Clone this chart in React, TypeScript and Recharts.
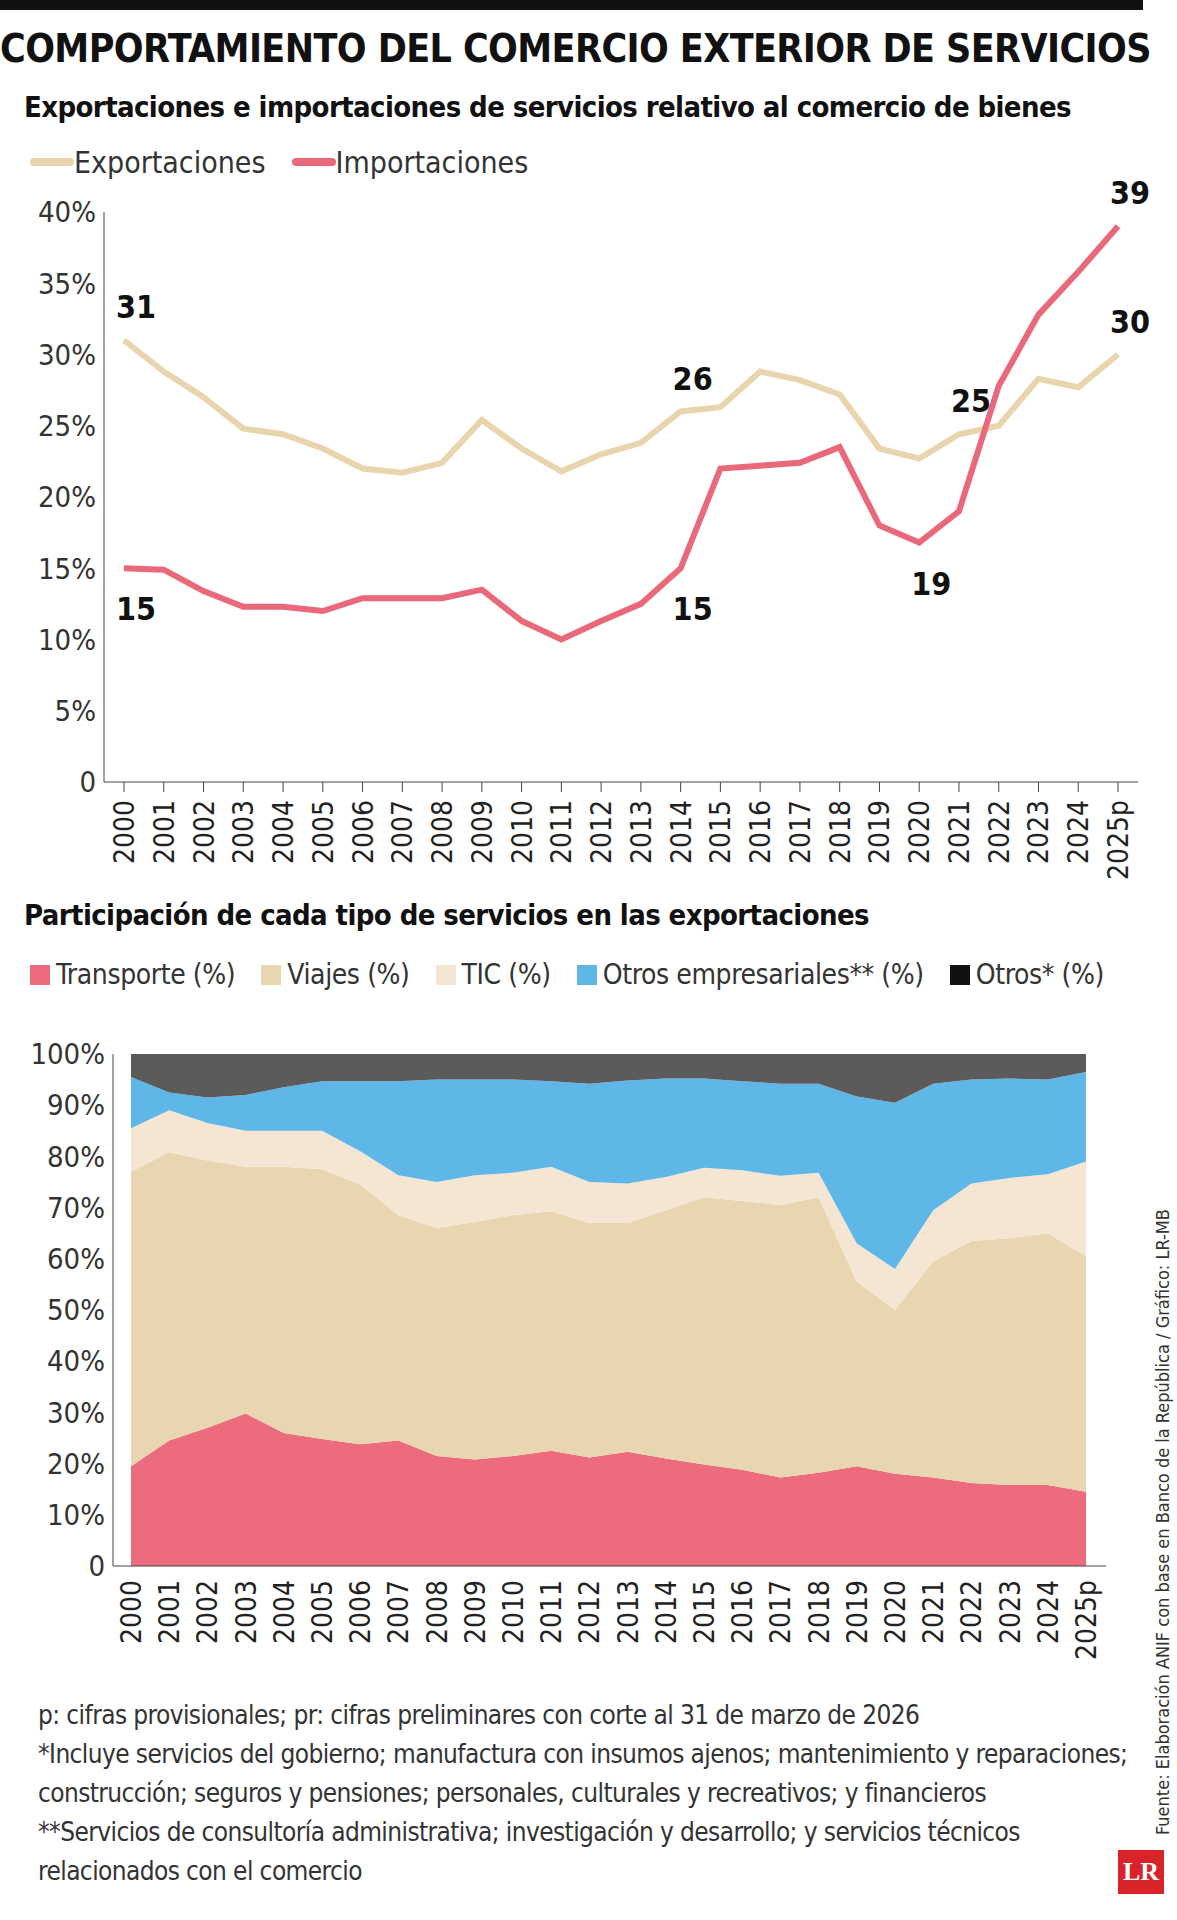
import React from 'react';
import { LineChart, Line, AreaChart, Area, XAxis, YAxis } from 'recharts';

const years = ['2000','2001','2002','2003','2004','2005','2006','2007','2008','2009','2010','2011','2012','2013','2014','2015','2016','2017','2018','2019','2020','2021','2022','2023','2024','2025p'];

const exportaciones = [31, 28.8, 27, 24.8, 24.4, 23.4, 22, 21.7, 22.4, 25.4, 23.4, 21.8, 23, 23.8, 26, 26.3, 28.8, 28.2, 27.2, 23.4, 22.7, 24.4, 25, 28.3, 27.7, 30];
const importaciones = [15, 14.9, 13.4, 12.3, 12.3, 12, 12.9, 12.9, 12.9, 13.5, 11.3, 10, 11.3, 12.5, 15, 22, 22.2, 22.4, 23.5, 18, 16.8, 19, 27.8, 32.8, 35.8, 39];

const expLabels: Record<number, string> = { 0: '31', 14: '26', 21: '25', 25: '30' };
const impLabels: Record<number, string> = { 0: '15', 14: '15', 20: '19', 25: '39' };

// stacked boundaries (cumulative %)
const transporteTop = [19.5, 24.5, 27, 29.8, 26, 24.8, 23.8, 24.5, 21.5, 20.8, 21.5, 22.5, 21.2, 22.3, 21, 19.8, 18.8, 17.3, 18.2, 19.5, 18, 17.3, 16.2, 15.8, 15.8, 14.5];
const viajesTop = [77, 80.8, 79.2, 78, 78, 77.5, 74.5, 68.5, 66, 67.2, 68.5, 69.3, 67, 67, 69.5, 72, 71.3, 70.5, 72, 55.5, 50, 59.5, 63.5, 64, 65, 60.5];
const ticTop = [85.5, 89, 86.5, 85, 85, 85, 81, 76.3, 75, 76.3, 76.8, 78, 75, 74.7, 76, 77.8, 77.3, 76.2, 76.8, 63, 58, 69.5, 74.7, 75.8, 76.5, 79];
const empTop = [95.5, 92.5, 91.5, 92, 93.5, 94.7, 94.7, 94.7, 95, 95, 95, 94.7, 94.2, 94.8, 95.2, 95.2, 94.7, 94.2, 94.2, 91.7, 90.5, 94.2, 95, 95.2, 95, 96.5];

const FONT = '"DejaVu Sans Condensed", "Liberation Sans Narrow", "DejaVu Sans", sans-serif';
const C_EXP = '#e8d5ae';
const C_IMP = '#e9687a';
const C_TRA = '#ec6b7d';
const C_VIA = '#e8d6b0';
const C_TIC = '#f4e6d2';
const C_EMP = '#5fb7e8';
const C_OTR = '#5b5b5b';

const lineData = years.map((y, i) => ({ year: y, exp: exportaciones[i], imp: importaciones[i] }));
const areaData = years.map((y, i) => ({
  year: y,
  tra: transporteTop[i],
  via: viajesTop[i] - transporteTop[i],
  tic: ticTop[i] - viajesTop[i],
  emp: empTop[i] - ticTop[i],
  otr: 100 - empTop[i],
}));

const YearTick = (props: any) => {
  const { x, y, payload } = props;
  return (
    <text x={x + 10} y={y + 6} transform={`rotate(-90, ${x + 10}, ${y + 6})`} textAnchor="end" fontSize={28} fill="#222"
      fontFamily={FONT} style={{ fontStretch: 'condensed' }}>
      {payload.value}
    </text>
  );
};

const makeLabel = (labels: Record<number, string>, above: (i: number) => boolean) => (props: any) => {
  const { x, y, index } = props;
  const t = labels[index];
  if (!t) return null;
  const up = above(index);
  return (
    <text x={x + 12} y={up ? y - 22 : y + 52} textAnchor="middle" fontSize={32} fontWeight="bold" fill="#111"
      fontFamily={FONT} style={{ fontStretch: 'condensed' }}>
      {t}
    </text>
  );
};

const legendItem = (color: string, label: string, square = false) => (
  <span style={{ display: 'inline-flex', alignItems: 'center', marginRight: square ? 26 : 26 }}>
    {square ? (
      <span style={{ width: 20, height: 20, background: color, display: 'inline-block', marginRight: 6 }} />
    ) : (
      <span style={{ width: 44, height: 8, borderRadius: 4, background: color, display: 'inline-block' }} />
    )}
    {label}
  </span>
);

const axisTick = { fontSize: 29, fill: '#333', fontFamily: FONT, style: { fontStretch: 'condensed' } };

export default function App() {
  return (
    <div style={{ position: 'absolute', left: 0, top: 0, width: 1177, height: 1920, background: '#fff', fontFamily: FONT, fontStretch: 'condensed', color: '#111', overflow: 'hidden' }}>
      <div style={{ position: 'absolute', left: 0, top: 0, width: 1143, height: 10, background: '#111' }} />
      <div style={{ position: 'absolute', left: 0, top: 26, fontSize: 39, fontWeight: 'bold', letterSpacing: -0.6, whiteSpace: 'nowrap' }}>
        COMPORTAMIENTO DEL COMERCIO EXTERIOR DE SERVICIOS
      </div>
      <div style={{ position: 'absolute', left: 24, top: 90, fontSize: 29, fontWeight: 'bold', letterSpacing: -0.6, whiteSpace: 'nowrap' }}>
        Exportaciones e importaciones de servicios relativo al comercio de bienes
      </div>
      <div style={{ position: 'absolute', left: 30, top: 138, fontSize: 30, color: '#333', whiteSpace: 'nowrap' }}>
        {legendItem(C_EXP, 'Exportaciones')}
        {legendItem(C_IMP, 'Importaciones')}
      </div>

      <div style={{ position: 'absolute', left: 0, top: 150 }}>
        <LineChart width={1150} height={742} data={lineData} margin={{ top: 62, right: 12, bottom: 0, left: 0 }}>
          <XAxis dataKey="year" tick={<YearTick />} interval={0} padding={{ left: 20, right: 20 }} stroke="#444" tickSize={10} height={110} />
          <YAxis domain={[0, 40]} ticks={[0, 5, 10, 15, 20, 25, 30, 35, 40]} width={104} stroke="#444" tickLine={false}
            tickFormatter={(v: number) => (v === 0 ? '0' : `${v}%`)} tick={axisTick} />
          <Line dataKey="exp" stroke={C_EXP} strokeWidth={6} dot={false} isAnimationActive={false}
            label={makeLabel(expLabels, () => true)} />
          <Line dataKey="imp" stroke={C_IMP} strokeWidth={6} dot={false} isAnimationActive={false}
            label={makeLabel(impLabels, (i) => i === 25)} />
        </LineChart>
      </div>

      <div style={{ position: 'absolute', left: 24, top: 898, fontSize: 29, fontWeight: 'bold', letterSpacing: -0.6, whiteSpace: 'nowrap' }}>
        Participación de cada tipo de servicios en las exportaciones
      </div>
      <div style={{ position: 'absolute', left: 30, top: 958, fontSize: 28, color: '#333', letterSpacing: -0.4, whiteSpace: 'nowrap' }}>
        {legendItem(C_TRA, 'Transporte (%)', true)}
        {legendItem(C_VIA, 'Viajes (%)', true)}
        {legendItem(C_TIC, 'TIC (%)', true)}
        {legendItem(C_EMP, 'Otros empresariales** (%)', true)}
        {legendItem('#111', 'Otros* (%)', true)}
      </div>

      <div style={{ position: 'absolute', left: 0, top: 1034 }}>
        <AreaChart width={1110} height={642} data={areaData} margin={{ top: 20, right: 4, bottom: 0, left: 0 }}>
          <XAxis dataKey="year" tick={<YearTick />} interval={0} padding={{ left: 18, right: 20 }} stroke="#444" tickLine={false} height={110} />
          <YAxis domain={[0, 100]} ticks={[0, 10, 20, 30, 40, 50, 60, 70, 80, 90, 100]} width={113} stroke="#444" tickLine={false}
            tickFormatter={(v: number) => (v === 0 ? '0' : `${v}%`)} tick={axisTick} />
          <Area dataKey="tra" stackId="a" type="linear" fill={C_TRA} stroke="none" fillOpacity={1} isAnimationActive={false} />
          <Area dataKey="via" stackId="a" type="linear" fill={C_VIA} stroke="none" fillOpacity={1} isAnimationActive={false} />
          <Area dataKey="tic" stackId="a" type="linear" fill={C_TIC} stroke="none" fillOpacity={1} isAnimationActive={false} />
          <Area dataKey="emp" stackId="a" type="linear" fill={C_EMP} stroke="none" fillOpacity={1} isAnimationActive={false} />
          <Area dataKey="otr" stackId="a" type="linear" fill={C_OTR} stroke="none" fillOpacity={1} isAnimationActive={false} />
        </AreaChart>
      </div>

      <div style={{ position: 'absolute', left: 38, top: 1696, fontSize: 26, lineHeight: '39px', color: '#333', letterSpacing: -0.6, width: 1100, whiteSpace: 'nowrap' }}>
        p: cifras provisionales; pr: cifras preliminares con corte al 31 de marzo de 2026<br />
        *Incluye servicios del gobierno; manufactura con insumos ajenos; mantenimiento y reparaciones;<br />
        construcción; seguros y pensiones; personales, culturales y recreativos; y financieros<br />
        **Servicios de consultoría administrativa; investigación y desarrollo; y servicios técnicos<br />
        relacionados con el comercio
      </div>

      <div style={{ position: 'absolute', left: 1152, top: 1835, transform: 'rotate(-90deg)', transformOrigin: '0 0', fontSize: 18, color: '#333', whiteSpace: 'nowrap' }}>
        Fuente: Elaboración ANIF con base en Banco de la República / Gráfico: LR-MB
      </div>

      <div style={{ position: 'absolute', left: 1118, top: 1850, width: 46, height: 44, background: '#d8232a', color: '#fff', fontFamily: 'serif', fontWeight: 'bold', fontSize: 26, textAlign: 'center', lineHeight: '44px' }}>
        LR
      </div>
    </div>
  );
}
